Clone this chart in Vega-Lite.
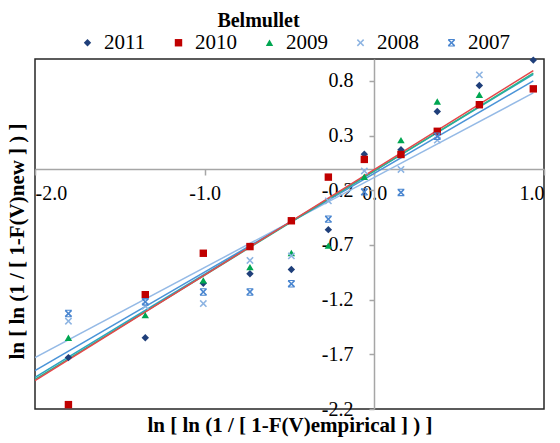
{
  "$schema": "https://vega.github.io/schema/vega-lite/v6.json",
  "width": 509,
  "height": 350,
  "autosize": "none",
  "padding": {"left": 35, "top": 59, "right": 16, "bottom": 34},
  "title": {"text": "Belmullet", "anchor": "middle", "dx": -31, "dy": 3, "font": "Liberation Serif", "fontSize": 20, "fontWeight": "bold", "color": "#000000"},
  "config": {
    "locale": {"number": {"decimal": ".", "thousands": ",", "grouping": [3], "currency": ["", ""], "minus": "-"}},
    "view": {"stroke": "#262626", "strokeWidth": 1.5},
    "axis": {"grid": false, "labelFont": "Liberation Serif", "labelFontSize": 20, "labelColor": "#000000", "titleFont": "Liberation Serif", "titleFontSize": 21, "titleFontWeight": "bold", "titleColor": "#000000", "domainColor": "#a6a6a6", "domainWidth": 1.5, "tickColor": "#a6a6a6", "tickWidth": 1.5},
    "legend": {"labelFont": "Liberation Serif", "titleFont": "Liberation Serif"}
  },
  "datasets": {
    "pts": [
      {"year": "2011", "x": -1.803, "y": -1.73}, {"year": "2011", "x": -1.35, "y": -1.548}, {"year": "2011", "x": -1.008, "y": -1.05}, {"year": "2011", "x": -0.733, "y": -0.964}, {"year": "2011", "x": -0.489, "y": -0.924}, {"year": "2011", "x": -0.271, "y": -0.56}, {"year": "2011", "x": -0.059, "y": 0.13}, {"year": "2011", "x": 0.157, "y": 0.17}, {"year": "2011", "x": 0.371, "y": 0.52}, {"year": "2011", "x": 0.619, "y": 0.757}, {"year": "2011", "x": 0.937, "y": 0.99},
      {"year": "2010", "x": -1.803, "y": -2.16}, {"year": "2010", "x": -1.35, "y": -1.155}, {"year": "2010", "x": -1.008, "y": -0.776}, {"year": "2010", "x": -0.733, "y": -0.715}, {"year": "2010", "x": -0.489, "y": -0.479}, {"year": "2010", "x": -0.271, "y": -0.08}, {"year": "2010", "x": -0.059, "y": 0.082}, {"year": "2010", "x": 0.157, "y": 0.127}, {"year": "2010", "x": 0.371, "y": 0.339}, {"year": "2010", "x": 0.619, "y": 0.582}, {"year": "2010", "x": 0.937, "y": 0.727},
      {"year": "2009", "x": -1.803, "y": -1.548}, {"year": "2009", "x": -1.35, "y": -1.342}, {"year": "2009", "x": -1.008, "y": -1.024}, {"year": "2009", "x": -0.733, "y": -0.903}, {"year": "2009", "x": -0.489, "y": -0.773}, {"year": "2009", "x": -0.271, "y": -0.706}, {"year": "2009", "x": -0.059, "y": -0.076}, {"year": "2009", "x": 0.157, "y": 0.258}, {"year": "2009", "x": 0.371, "y": 0.612}, {"year": "2009", "x": 0.619, "y": 0.673},
      {"year": "2008", "x": -1.803, "y": -1.397}, {"year": "2008", "x": -1.35, "y": -1.26}, {"year": "2008", "x": -1.008, "y": -1.236}, {"year": "2008", "x": -0.733, "y": -0.842}, {"year": "2008", "x": -0.489, "y": -0.8}, {"year": "2008", "x": -0.271, "y": -0.297}, {"year": "2008", "x": -0.059, "y": -0.024}, {"year": "2008", "x": 0.157, "y": -0.01}, {"year": "2008", "x": 0.371, "y": 0.258}, {"year": "2008", "x": 0.619, "y": 0.855},
      {"year": "2007", "x": -1.803, "y": -1.327}, {"year": "2007", "x": -1.35, "y": -1.22}, {"year": "2007", "x": -1.008, "y": -1.13}, {"year": "2007", "x": -0.733, "y": -1.13}, {"year": "2007", "x": -0.489, "y": -1.055}, {"year": "2007", "x": -0.271, "y": -0.464}, {"year": "2007", "x": -0.059, "y": -0.215}, {"year": "2007", "x": 0.157, "y": -0.22}, {"year": "2007", "x": 0.371, "y": 0.294}
    ],
    "fits": [
      {"fit": "2008", "x": -2.0, "y": -1.73}, {"fit": "2008", "x": 0.937, "y": 0.69},
      {"fit": "2007", "x": -2.0, "y": -1.85}, {"fit": "2007", "x": 0.937, "y": 0.8},
      {"fit": "2011", "x": -2.0, "y": -1.91}, {"fit": "2011", "x": 0.937, "y": 0.86},
      {"fit": "2009", "x": -2.0, "y": -1.93}, {"fit": "2009", "x": 0.937, "y": 0.87},
      {"fit": "2010", "x": -2.0, "y": -1.94}, {"fit": "2010", "x": 0.937, "y": 0.894}
    ]
  },
  "encoding": {
    "x": {"field": "x", "type": "quantitative", "scale": {"domain": [-2, 1], "nice": false, "zero": false},
      "axis": {"orient": "bottom", "offset": -240, "values": [-2, -1, 0, 1], "format": ".1f", "tickSize": 6, "labelPadding": 8,
        "title": "ln  [ ln (1 / [ 1-F(V)empirical ] ) ]", "titleBaseline": "alphabetic", "titleY": 262, "titleX": 254.5}},
    "y": {"field": "y", "type": "quantitative", "scale": {"domain": [-2.2, 1.0], "nice": false, "zero": false},
      "axis": {"orient": "left", "offset": -339, "values": [-2.2, -1.7, -1.2, -0.7, -0.2, 0.3, 0.8], "format": ".1f", "tickSize": 5, "labelPadding": 16,
        "title": "ln [ ln (1 / [ 1-F(V)new ] ) ]", "titleBaseline": "alphabetic", "titleX": -351, "titleY": 182}}
  },
  "layer": [
    {
      "data": {"name": "fits"},
      "mark": {"type": "line", "strokeWidth": 1.5, "clip": true},
      "encoding": {
        "stroke": {"field": "fit", "type": "nominal", "legend": null,
          "scale": {"domain": ["2008", "2007", "2011", "2009", "2010"], "range": ["#95BAE6", "#4B94D8", "#2AA3C4", "#2DB38A", "#E5484A"]}}
      }
    },
    {
      "data": {"name": "pts"},
      "mark": {"type": "point", "filled": true, "size": 55, "opacity": 1},
      "encoding": {
        "shape": {"field": "year", "type": "nominal", "sort": ["2011", "2010", "2009", "2008", "2007"],
          "scale": {"domain": ["2011", "2010", "2009", "2008", "2007"], "range": ["diamond", "square", "triangle-up", "M-1,-0.7L-0.7,-1L0,-0.3L0.7,-1L1,-0.7L0.3,0L1,0.7L0.7,1L0,0.3L-0.7,1L-1,0.7L-0.3,0Z", "M-1,-0.7L-0.7,-1L0,-0.3L0.7,-1L1,-0.7L0.3,0L1,0.7L0.7,1L0,0.3L-0.7,1L-1,0.7L-0.3,0ZM-0.9,-1L0.9,-1L0.9,-0.72L-0.9,-0.72ZM-0.9,0.72L0.9,0.72L0.9,1L-0.9,1Z"]},
          "legend": {"orient": "none", "legendX": 42, "legendY": -27, "direction": "horizontal", "title": null, "labelFont": "Liberation Serif", "labelFontSize": 21, "labelColor": "#000000", "symbolSize": 55, "columnPadding": 22, "labelOffset": 6}},
        "color": {"field": "year", "type": "nominal", "sort": ["2011", "2010", "2009", "2008", "2007"],
          "scale": {"domain": ["2011", "2010", "2009", "2008", "2007"], "range": ["#1F3F7A", "#C00000", "#00A651", "#8DB4E2", "#4A86D0"]}}
      }
    }
  ]
}
